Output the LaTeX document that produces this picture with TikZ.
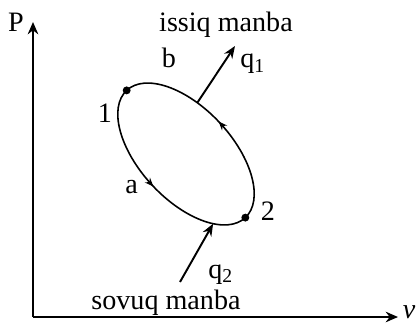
\documentclass[tikz,border=0pt]{standalone}
\usepackage{fontspec}
\setmainfont{Liberation Serif}
\usetikzlibrary{arrows.meta,positioning,calc}

\begin{document}
\begin{tikzpicture}[>=Stealth,font=\fontsize{16}{19}\selectfont,
   axis/.style={line width=1.1pt,-{Stealth[length=7pt,width=6pt]}},
   heat/.style={line width=1.1pt,-{Stealth[length=7pt,width=5.5pt]}},
   flow/.style={line width=0.9pt,-{Stealth[length=5pt,width=4pt]}},
   lbl/.style={inner sep=0pt,anchor=base},
   state/.style={circle,fill,inner sep=0pt,minimum size=4.5pt}]
  \useasboundingbox (-0.66,-0.12) rectangle (7.68,6.34);
  \coordinate (O) at (0,0);
  \coordinate (ytip) at (0,5.9);
  \coordinate (xtip) at (7.3,0);
  \draw[axis] (O) -- (ytip);
  \draw[axis] (O) -- (xtip);
  \node[lbl] (plab) at (-0.34,5.7) {P};
  \node[lbl] (vlab) at (7.52,-0.02) {\textit{v}};
  \coordinate (c) at (3.06,3.26);
  \begin{scope}[shift={(c)},rotate=-47]
    \draw[line width=0.9pt] (0,0) ellipse[x radius=1.74,y radius=0.92];
    \node[state] (s1) at (-1.74,0) {};
    \node[state] (s2) at (1.74,0) {};
    \coordinate (hot) at ({1.74*cos(110)},{0.92*sin(110)});
    \coordinate (cold) at ({1.74*cos(-37)},{0.92*sin(-37)});
    \draw[flow] (0.06,0.92) -- (-0.03,0.92);
    \draw[flow] (-0.06,-0.92) -- (0.03,-0.92);
  \end{scope}
  \node[lbl] (n1) at (1.44,3.9) {1};
  \node[lbl] (n2) at (4.7,1.94) {2};
  \node[lbl] (pa) at (1.97,2.48) {a};
  \node[lbl] (pb) at (2.72,4.98) {b};
  \node[lbl] (hotsrc) at (3.86,5.71) {issiq manba};
  \node[lbl] (coldsrc) at (2.66,0.16) {sovuq manba};
  \coordinate (hottip) at (4.04,5.42);
  \coordinate (coldtail) at (2.94,0.7);
  \draw[heat] (hot) -- (hottip);
  \draw[heat] (coldtail) -- (cold);
  \node[lbl,anchor=base west] (q1) at (4.14,4.98) {q\textsubscript{1}};
  \node[lbl,anchor=base west] (q2) at (3.5,0.78) {q\textsubscript{2}};
\end{tikzpicture}
\end{document}
